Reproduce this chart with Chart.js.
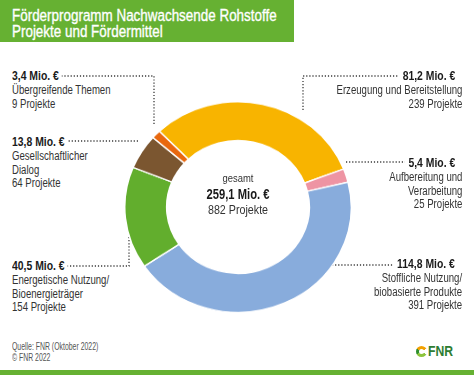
<!DOCTYPE html>
<html>
<head>
<meta charset="utf-8">
<script src="https://cdn.jsdelivr.net/npm/chart.js@4.4.0/dist/chart.umd.min.js"></script>
<style>
  body { margin: 0; background: #fff; }
  #page { position: relative; width: 474px; height: 375px; overflow: hidden; background: #fff;
          font-family: "Liberation Sans", Arial, sans-serif; color: #2b2b2b; }
  .narrow { transform: scaleX(0.8); transform-origin: 0 0; }
  #header { position: absolute; left: 0; top: 0; width: 294px; height: 42px; background: #66b132; }
  #header div { position: absolute; left: 12px; color: #fff; font-size: 16.8px; line-height: 18px; white-space: nowrap;
                -webkit-text-stroke: 0.35px #fff; }
  #footerbar { position: absolute; left: 0; top: 370px; width: 474px; height: 5px; background: #66b132; }
  #chartbox { position: absolute; left: 124px; top: 93px; width: 228px; height: 228px;
              transform: scaleY(0.93); transform-origin: 50% 50%; }
  .lbl { position: absolute; white-space: nowrap; transform: scaleX(0.8); transform-origin: 0 0; }
  .lbl.right { text-align: right; transform-origin: 100% 0; }
  .lbl .amt { font-weight: bold; font-size: 13px; line-height: 16px; color: #1a1a1a; }
  .lbl .amt span { display: inline-block; }
  .lbl .desc { font-size: 12px; line-height: 13.5px; color: #333; }
  .right .amt { padding-right: 9px; }
  #center { position: absolute; left: 168px; top: 171px; width: 140px; text-align: center; white-space: nowrap;
            transform: scaleX(0.8); transform-origin: 50% 0; }
  #src { position: absolute; left: 12px; top: 341px; font-size: 10.3px; line-height: 11px; color: #555; white-space: nowrap;
         transform: scaleX(0.67); transform-origin: 0 0; }
  #logo { position: absolute; left: 416px; top: 345px; height: 14px; }
  #logo .icon { position: absolute; left: 0; top: 1px; width: 11px; height: 11px; border-radius: 50%;
                background: conic-gradient(#f2a000 0deg 60deg, #fff 60deg 120deg, #8cc43c 120deg 240deg, #2f8f2f 240deg 300deg, #f2a000 300deg 360deg); }
  #logo .icon::after { content: ""; position: absolute; left: 3px; top: 3px; width: 5px; height: 5px; border-radius: 50%; background: #fff; }
  #logo .txt { position: absolute; left: 12px; top: -1px; font-weight: bold; font-size: 14px; line-height: 14px; color: #2e7d32;
               white-space: nowrap; transform: scaleX(0.87); transform-origin: 0 0; }
  svg { position: absolute; left: 0; top: 0; }
</style>
</head>
<body>
<div id="page">
  <div id="header">
    <div class="narrow" style="top:7px">Förderprogramm Nachwachsende Rohstoffe</div>
    <div class="narrow" style="top:23px">Projekte und Fördermittel</div>
  </div>

  <svg width="474" height="375" id="leaders"></svg>

  <div id="chartbox"><canvas id="donut" width="228" height="228"></canvas></div>

  <div id="center">
    <div style="font-size:11.8px;line-height:15px;color:#333">gesamt</div>
    <div id="totalAmt" style="font-weight:bold;font-size:14px;line-height:16px;color:#1a1a1a"></div>
    <div id="totalPrj" style="font-size:13.4px;line-height:15px;color:#333"></div>
  </div>

  <div id="src">Quelle: FNR (Oktober 2022)<br>© FNR 2022</div>
  <div id="logo"><span class="icon"></span><span class="txt">FNR</span></div>
  <div id="footerbar"></div>
</div>

<script>
// data (clockwise from the top-left)
const categories = ['Erzeugung und Bereitstellung', 'Aufbereitung und Verarbeitung',
    'Stoffliche Nutzung/biobasierte Produkte', 'Energetische Nutzung/Bioenergieträger',
    'Gesellschaftlicher Dialog', 'Übergreifende Themen'];
const fundingMio = [81.2, 5.4, 114.8, 40.5, 13.8, 3.4];
const projectCount = [239, 25, 391, 154, 64, 9];
const labelLines = [
    ['Erzeugung und Bereitstellung'],
    ['Aufbereitung und', 'Verarbeitung'],
    ['Stoffliche Nutzung/', 'biobasierte Produkte'],
    ['Energetische Nutzung/', 'Bioenergieträger'],
    ['Gesellschaftlicher', 'Dialog'],
    ['Übergreifende Themen']
];
const sliceColors = ['#f8b400', '#ee94a3', '#88acdc', '#62ae2d', '#7b5630', '#e8680f'];

// where each label block sits and where its dotted leader touches the ring (layout only)
const labelPos = [
    { side: 'right', x: 462, y: 68,  lineY: 76,  ring: [303, 110] },
    { side: 'right', x: 462, y: 155, lineY: 162, ring: [346, 162] },
    { side: 'right', x: 462, y: 256, lineY: 265, ring: [332, 265] },
    { side: 'left',  x: 12,  y: 258, lineY: 266, ring: [129, 237] },
    { side: 'left',  x: 12,  y: 134, lineY: 141, ring: [138, 141] },
    { side: 'left',  x: 12,  y: 68,  lineY: 76,  ring: [154, 124] }
];

function fmt(v) {
    return v.toLocaleString('de-DE', { minimumFractionDigits: 1, maximumFractionDigits: 1 });
}

// labels + leaders
const page = document.getElementById('page');
const svg = document.getElementById('leaders');
categories.forEach(function(cat, i) {
    const p = labelPos[i];
    const div = document.createElement('div');
    div.className = 'lbl' + (p.side === 'right' ? ' right' : '');
    div.style.top = p.y + 'px';
    if (p.side === 'right') div.style.right = (474 - p.x) + 'px';
    else div.style.left = p.x + 'px';
    let html = '<div class="amt"><span>' + fmt(fundingMio[i]) + ' Mio. €</span></div>';
    labelLines[i].forEach(l => { html += '<div class="desc">' + l + '</div>'; });
    html += '<div class="desc">' + projectCount[i] + ' Projekte</div>';
    div.innerHTML = html;
    page.appendChild(div);

    // leader ends a few px from the amount text
    const r = div.querySelector('.amt span').getBoundingClientRect();
    const textX = p.side === 'right' ? r.left - 3 : r.right + 3;
    let d = 'M' + p.ring[0] + ' ' + p.ring[1];
    if (p.ring[1] !== p.lineY) d += ' V' + p.lineY;
    d += ' H' + textX.toFixed(1);
    const path = document.createElementNS('http://www.w3.org/2000/svg', 'path');
    path.setAttribute('d', d);
    path.setAttribute('fill', 'none');
    path.setAttribute('stroke', '#3a3a3a');
    path.setAttribute('stroke-width', '1.3');
    path.setAttribute('stroke-dasharray', '1.2 1.9');
    svg.appendChild(path);
});

const total = fundingMio.reduce((a, b) => a + b, 0);
const totalProjects = projectCount.reduce((a, b) => a + b, 0);
document.getElementById('totalAmt').textContent = fmt(total) + ' Mio. €';
document.getElementById('totalPrj').textContent = totalProjects + ' Projekte';

// doughnut
new Chart(document.getElementById('donut'), {
    type: 'doughnut',
    data: {
        labels: categories,
        datasets: [{
            data: fundingMio,
            backgroundColor: sliceColors,
            borderColor: '#ffffff',
            borderWidth: 1.5
        }]
    },
    options: {
        responsive: false,
        animation: false,
        events: [],
        rotation: -44,
        cutout: '63%',
        layout: { padding: 0 },
        plugins: {
            legend: { display: false },
            tooltip: { enabled: false }
        }
    }
});
</script>
</body>
</html>
